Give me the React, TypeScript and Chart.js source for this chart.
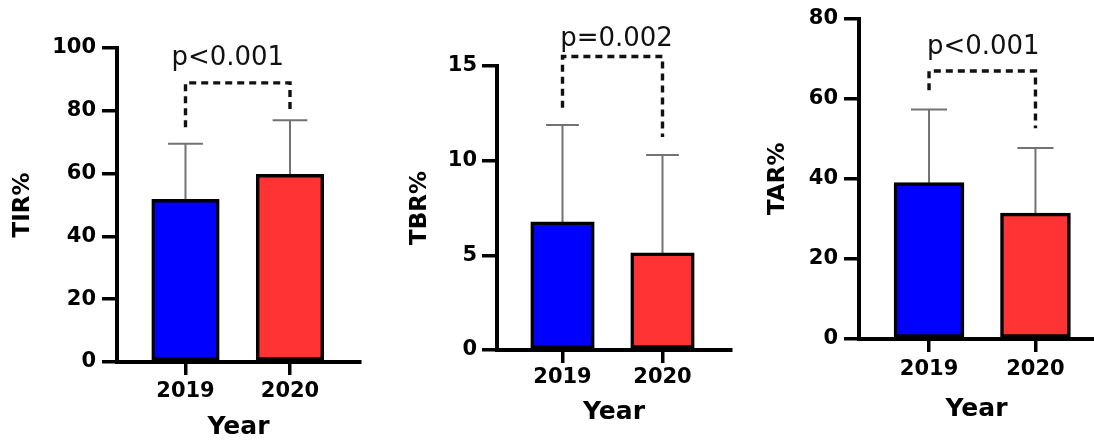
import React, { useEffect, useRef } from 'react';
import { Chart, registerables } from 'chart.js';

Chart.register(...registerables);

// ---- data ----
const years = ['2019', '2020'];

const tirMean = [51.7, 59.7];
const tirSD = [17.8, 17.3];
const tirBracket = [74.8, 88.9, 79.6]; // left leg end, bracket level, right leg end
const tirP = 'p<0.001';

const tbrMean = [6.76, 5.12];
const tbrSD = [5.13, 5.18];
const tbrBracket = [12.8, 15.5, 11.25];
const tbrP = 'p=0.002';

const tarMean = [39.0, 31.4];
const tarSD = [18.3, 16.3];
const tarBracket = [62.1, 66.9, 52.6];
const tarP = 'p<0.001';

const yTitles = ['TIR%', 'TBR%', 'TAR%'];
const yMaxes = [100, 15, 80];
const ySteps = [20, 5, 20];

// ---- style ----
const BAR_COLORS = ['#0000FF', '#FF3333'];
const FONT = "'DejaVu Sans', 'Liberation Sans', sans-serif";
const W = 1094;
const H = 443;

interface PanelCfg {
  yTitle: string;
  means: number[];
  sds: number[];
  bracket: number[];
  pText: string;
  yMax: number;
  yStep: number;
  padLeft: number;
  padRight: number;
  padTop: number;
  padBottom: number;
  yWidth: number;
  xHeight: number;
  xMin: number;
  xMax: number;
  barPct: number;
  yTickPad: number;
  xTickPad: number;
  textRise: number;
  textDx: number;
}

const panels: PanelCfg[] = [
  {
    yTitle: yTitles[0], means: tirMean, sds: tirSD, bracket: tirBracket, pText: tirP,
    yMax: yMaxes[0], yStep: ySteps[0],
    padLeft: 9, padRight: W - 360, padTop: 48, padBottom: 0.6,
    yWidth: 108, xHeight: 80.4, xMin: -0.6555, xMax: 1.67, barPct: 0.641,
    yTickPad: 6, xTickPad: 4.4, textRise: 25, textDx: -10,
  },
  {
    yTitle: yTitles[1], means: tbrMean, sds: tbrSD, bracket: tbrBracket, pText: tbrP,
    yMax: yMaxes[1], yStep: ySteps[1],
    padLeft: 406, padRight: W - 731, padTop: 66, padBottom: 15.6,
    yWidth: 91, xHeight: 77.4, xMin: -0.655, xMax: 1.685, barPct: 0.63,
    yTickPad: 5, xTickPad: 2.4, textRise: 17, textDx: 4,
  },
  {
    yTitle: yTitles[2], means: tarMean, sds: tarSD, bracket: tarBracket, pText: tarP,
    yMax: yMaxes[2], yStep: ySteps[2],
    padLeft: 764, padRight: 0, padTop: 16, padBottom: 18.6,
    yWidth: 95, xHeight: 85.4, xMin: -0.658, xMax: 1.55, barPct: 0.652,
    yTickPad: 6, xTickPad: 5.4, textRise: 24, textDx: 1,
  },
];

function makeChart(canvas: HTMLCanvasElement, p: PanelCfg) {
  const errorBars = {
    id: 'errorBars',
    beforeDatasetsDraw(chart: any) {
      const ctx = chart.ctx;
      const meta = chart.getDatasetMeta(0);
      const y = chart.scales.y;
      ctx.save();
      ctx.strokeStyle = '#727272';
      ctx.lineWidth = 2;
      meta.data.forEach((bar: any, i: number) => {
        const top = y.getPixelForValue(p.means[i] + p.sds[i]);
        const base = y.getPixelForValue(p.means[i]);
        const half = bar.width * 0.26;
        ctx.beginPath();
        ctx.moveTo(bar.x, base);
        ctx.lineTo(bar.x, top);
        ctx.moveTo(bar.x - half, top);
        ctx.lineTo(bar.x + half, top);
        ctx.stroke();
      });
      ctx.restore();
    },
  };

  const bracket = {
    id: 'bracket',
    afterDraw(chart: any) {
      const { ctx } = chart;
      const x = chart.scales.x;
      const y = chart.scales.y;
      const x0 = x.getPixelForValue(0);
      const x1 = x.getPixelForValue(1);
      const yl = y.getPixelForValue(p.bracket[0]);
      const yt = y.getPixelForValue(p.bracket[1]);
      const yr = y.getPixelForValue(p.bracket[2]);
      ctx.save();
      ctx.strokeStyle = '#111';
      ctx.lineWidth = 3.4;
      ctx.setLineDash([7, 5]);
      ctx.beginPath();
      ctx.moveTo(x0, yl);
      ctx.lineTo(x0, yt);
      ctx.lineTo(x1, yt);
      ctx.lineTo(x1, yr);
      ctx.stroke();
      ctx.setLineDash([]);
      ctx.font = `26px ${FONT}`;
      ctx.fillStyle = '#111';
      ctx.textAlign = 'center';
      ctx.textBaseline = 'middle';
      ctx.fillText(p.pText, (x0 + x1) / 2 + p.textDx, yt - p.textRise);
      ctx.restore();
    },
  };

  return new Chart(canvas, {
    type: 'bar',
    data: {
      datasets: [
        {
          data: years.map((_, i) => ({ x: i, y: p.means[i] })) as any,
          backgroundColor: BAR_COLORS,
          borderColor: '#000',
          borderWidth: 3.5,
          borderSkipped: false,
          inflateAmount: 0.6,
          barPercentage: p.barPct,
          categoryPercentage: 1,
        },
      ],
    },
    options: {
      responsive: false,
      animation: false,
      layout: {
        padding: { left: p.padLeft, right: p.padRight, top: p.padTop, bottom: p.padBottom },
      },
      plugins: {
        legend: { display: false },
        tooltip: { enabled: false },
      },
      scales: {
        x: {
          type: 'linear',
          offset: false,
          min: p.xMin,
          max: p.xMax,
          afterBuildTicks: (s: any) => {
            s.ticks = years.map((_, i) => ({ value: i }));
          },
          afterFit: (s: any) => {
            s.height = p.xHeight;
          },
          ticks: {
            callback: (_v: any, i: number) => years[i] ?? '',
            font: { family: FONT, size: 21, weight: 'bold' },
            color: '#000',
            padding: p.xTickPad,
            maxRotation: 0,
            autoSkip: false,
          },
          grid: {
            offset: false,
            drawOnChartArea: false,
            drawTicks: true,
            tickLength: 13,
            lineWidth: 3.5,
            color: '#000',
          },
          border: { display: true, color: '#000', width: 4 },
          title: {
            display: true,
            text: 'Year',
            font: { family: FONT, size: 25, weight: 'bold' },
            color: '#000',
            padding: 0,
          },
        } as any,
        y: {
          min: 0,
          max: p.yMax,
          afterFit: (s: any) => {
            s.width = p.yWidth;
          },
          ticks: {
            stepSize: p.yStep,
            font: { family: FONT, size: 21, weight: 'bold' },
            color: '#000',
            padding: p.yTickPad,
          },
          grid: {
            drawOnChartArea: false,
            drawTicks: true,
            tickLength: 15,
            lineWidth: 3.5,
            color: '#000',
          },
          border: { display: true, color: '#000', width: 4 },
          title: {
            display: true,
            text: p.yTitle,
            font: { family: FONT, size: 23, weight: 'bold' },
            color: '#000',
            padding: 0,
          },
        } as any,
      },
    },
    plugins: [errorBars, bracket],
  } as any);
}

function Panel({ cfg }: { cfg: PanelCfg }) {
  const ref = useRef<HTMLCanvasElement | null>(null);
  useEffect(() => {
    if (!ref.current) return;
    const chart = makeChart(ref.current, cfg);
    return () => chart.destroy();
  }, [cfg]);
  return (
    <canvas
      ref={ref}
      width={W}
      height={H}
      style={{ position: 'absolute', left: 0, top: 0, width: W, height: H }}
    />
  );
}

export default function App() {
  return (
    <div style={{ position: 'absolute', left: 0, top: 0, width: W, height: H, background: '#fff' }}>
      {panels.map((cfg, i) => (
        <Panel key={i} cfg={cfg} />
      ))}
    </div>
  );
}
